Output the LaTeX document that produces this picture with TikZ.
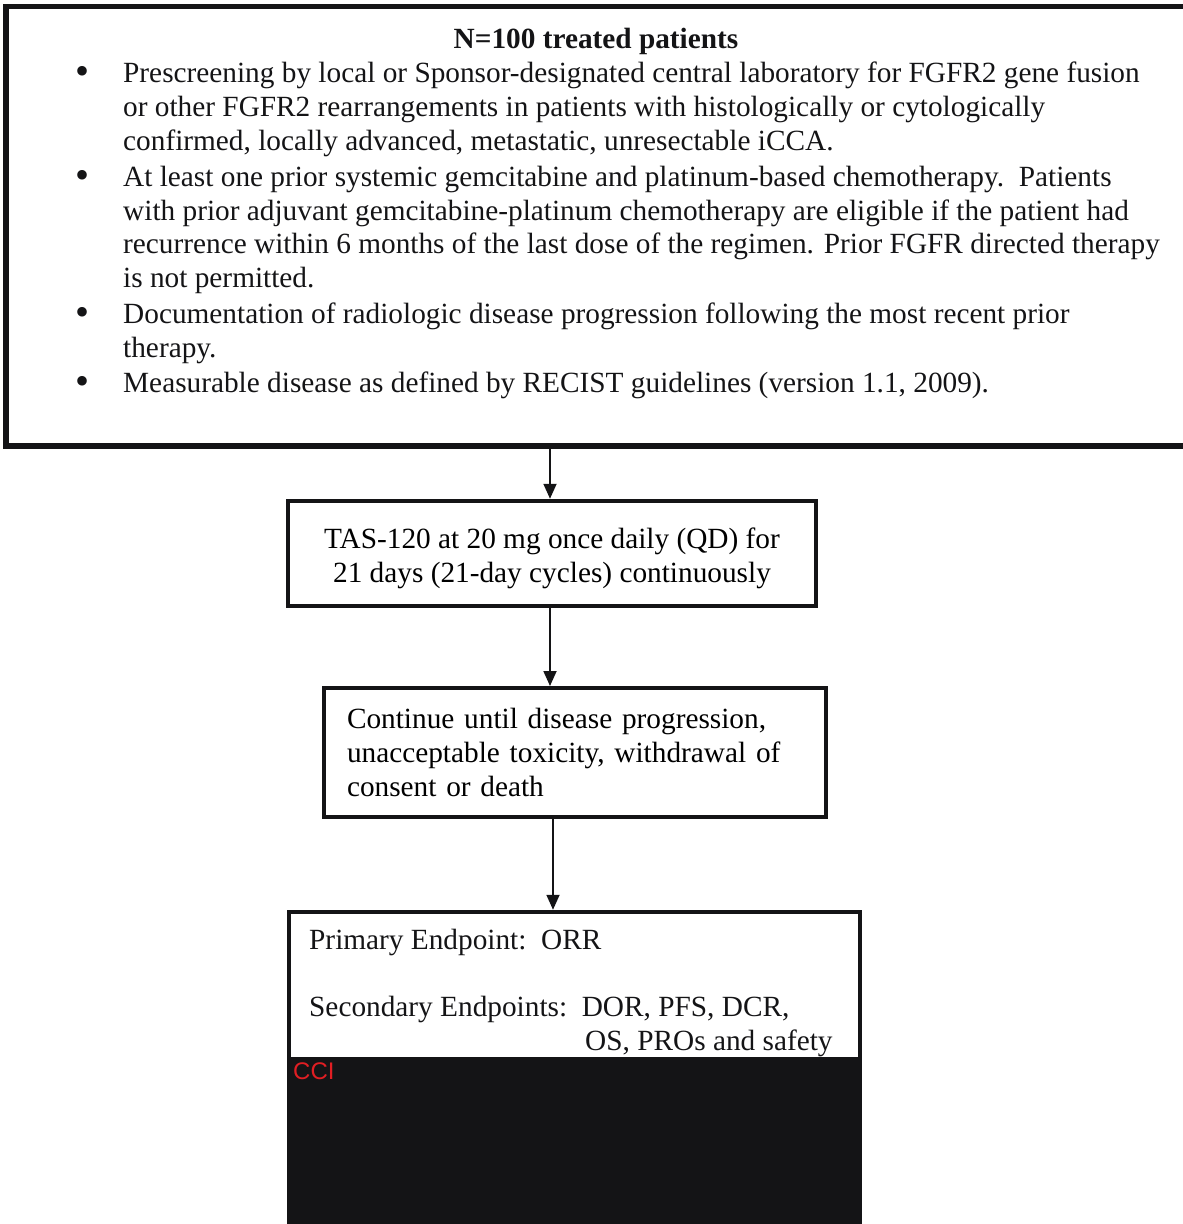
\documentclass[tikz,border=0pt]{standalone}
\usepackage{fontspec}
\setmainfont{Liberation Serif}
\newfontfamily\ccifont{Liberation Sans}
\usetikzlibrary{arrows.meta,calc}
\definecolor{blk}{RGB}{20,20,22}
\definecolor{ccired}{RGB}{225,30,35}
\begin{document}
\begin{tikzpicture}[x=1pt,y=-1pt,
  txt/.style={font=\fontsize{29.3}{34}\selectfont, inner sep=0pt, anchor=base west, text=blk},
  bul/.style={font=\fontsize{40}{34}\selectfont, inner sep=0pt, anchor=base, text=blk},
  frame/.style={draw=blk, inner sep=0pt},
  arr/.style={draw=blk, line width=1.8pt, -{Triangle[length=15pt,width=13pt]}}]
\useasboundingbox (0,0) rectangle (1183,1224);
% black redacted area
\fill[blk] (291,1057) rectangle (858,1240);
% boxes
\node[frame, line width=5.5pt, minimum width=1194pt, minimum height=439.5pt] (top) at (603,226.25) {};
\node[frame, line width=4.5pt, minimum width=528pt, minimum height=105pt,
      align=center, font=\fontsize{29.3}{34}\selectfont] (box2) at (552,553.5)
      {\rule{0pt}{30pt}TAS-120 at 20 mg once daily (QD) for\\21 days (21-day cycles) continuously};
\node[frame, line width=4pt, minimum width=502pt, minimum height=129pt,
      text width=456pt, align=left, font=\fontsize{29.3}{34}\selectfont] (box3) at (575,752.5)
      {Continue until disease progression,\\unacceptable toxicity, withdrawal of\\consent or death};
\node[frame, line width=4.5pt, minimum width=571pt, minimum height=348pt] (box4) at (574.5,1086) {};
% top box text
\node[bul, font=\bfseries\fontsize{29.3}{34}\selectfont] (title) at (596,48) {N=100 treated patients};
\node[bul] (b1) at (83,84) {•};
\node[txt] (l11) at (123,82) {Prescreening by local or Sponsor-designated central laboratory for FGFR2 gene fusion};
\node[txt] (l12) at (123,116) {or other FGFR2 rearrangements in patients with histologically or cytologically};
\node[txt] (l13) at (123,150) {confirmed, locally advanced, metastatic, unresectable iCCA.};
\node[bul] (b2) at (83,188) {•};
\node[txt] (l21) at (123,186) {At least one prior systemic gemcitabine and platinum-based chemotherapy.\ \ Patients};
\node[txt] (l22) at (123,220) {with prior adjuvant gemcitabine-platinum chemotherapy are eligible if the patient had};
\node[txt] (l23) at (123,253) {recurrence within 6 months of the last dose of the regimen. Prior FGFR directed therapy};
\node[txt] (l24) at (123,287) {is not permitted.};
\node[bul] (b3) at (83,325) {•};
\node[txt] (l31) at (123,323) {Documentation of radiologic disease progression following the most recent prior};
\node[txt] (l32) at (123,357) {therapy.};
\node[bul] (b4) at (83,394) {•};
\node[txt] (l41) at (123,392) {Measurable disease as defined by RECIST guidelines (version 1.1, 2009).};
% endpoint box text
\node[txt] (e1) at (309,949) {Primary Endpoint:\ \ ORR};
\node[txt] (e2) at (309,1016) {Secondary Endpoints:\ \ DOR, PFS, DCR,};
\node[txt] (e3) at (585,1050) {OS, PROs and safety};
\node[inner sep=0pt, anchor=base west, font=\ccifont\fontsize{24}{28}\selectfont, text=ccired] (cci) at (293,1079) {CCI};
% connectors
\coordinate (a1) at ($(box2.north)+(-2,0)$);
\draw[arr] (a1 |- top.south) -- (a1);
\coordinate (a2) at ($(box2.south)+(-2,0)$);
\draw[arr] (a2) -- (a2 |- box3.north);
\coordinate (a3) at ($(box3.south)+(-22,0)$);
\draw[arr] (a3) -- (a3 |- box4.north);
\end{tikzpicture}
\end{document}
